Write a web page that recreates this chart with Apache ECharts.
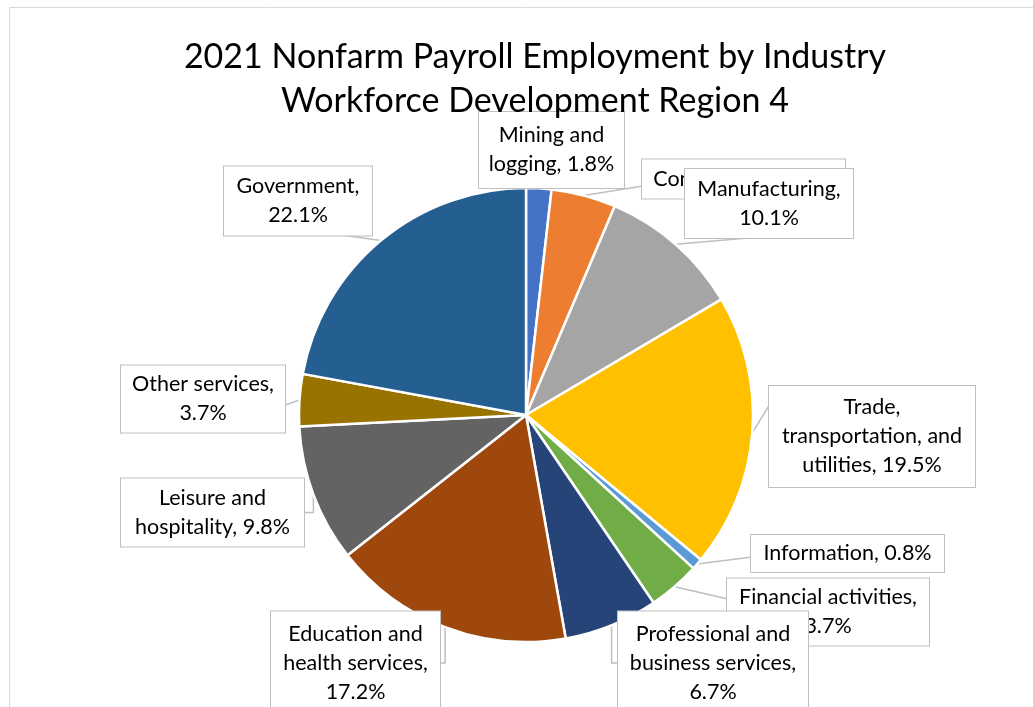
<!DOCTYPE html>
<html>
<head>
<meta charset="utf-8">
<script src="https://cdn.jsdelivr.net/npm/echarts@6/dist/echarts.min.js"></script>
<style>
  html, body { margin: 0; padding: 0; background: #fff; }
  #chart { width: 1033px; height: 707px; }
</style>
</head>
<body>
<div id="chart"></div>
<script>
// Share of 2021 nonfarm payroll employment by industry (percent)
const industries = [
  'Mining and\nlogging',
  'Construction',
  'Manufacturing',
  'Trade,\ntransportation, and\nutilities',
  'Information',
  'Financial activities',
  'Professional and\nbusiness services',
  'Education and\nhealth services',
  'Leisure and\nhospitality',
  'Other services',
  'Government'
];
const shares = [1.8, 4.6, 10.1, 19.5, 0.8, 3.7, 6.7, 17.2, 9.8, 3.7, 22.1];
const sliceColors = [
  '#4472C4', '#ED7D31', '#A5A5A5', '#FFC000', '#5B9BD5', '#70AD47',
  '#264478', '#9E480E', '#636363', '#997300', '#255E91'
];
// How each callout reads: where the comma-separated value goes
const calloutSeparators = [', ', ', ', ',\n', ', ', ', ', ',\n', ',\n', ',\n', ', ', ',\n', ',\n'];

// Callout boxes: centre x, centre y, box width, vertical padding
const calloutBoxes = [
  [551.5, 150, 145, 9],
  [743.5, 179, 203, 5],
  [769, 203.5, 168, 5.5],
  [872, 436.5, 206, 7],
  [847.5, 553.5, 193, 4],
  [828, 612, 202, 4.5],
  [713, 663, 190, 8],
  [355.5, 663, 169, 8],
  [212.5, 512.5, 183, 5],
  [203, 399, 164, 4.5],
  [298, 201, 148, 5.5]
];
// Where each callout pointer meets its box (null: let ECharts pick)
const pointerTargets = [
  [541, 187],
  [643, 186],
  [760, 237],
  [770, 404],
  [752, 557],
  [728, 599],
  null,
  null,
  null,
  [285, 405],
  [335, 234]
];

const data = industries.map((name, i) => ({
  name: name,
  value: shares[i],
  itemStyle: { color: sliceColors[i] },
  label: {
    formatter: name + calloutSeparators[i] + shares[i].toFixed(1) + '%',
    width: calloutBoxes[i][2],
    padding: [calloutBoxes[i][3], 0]
  }
}));

const chart = echarts.init(document.getElementById('chart'));
chart.setOption({
  backgroundColor: '#fff',
  animation: false,
  title: {
    text: '2021 Nonfarm Payroll Employment by Industry\nWorkforce Development Region 4',
    left: 530,
    top: 30,
    textAlign: 'center',
    textStyle: {
      fontFamily: 'Lato',
      fontWeight: 'normal',
      fontSize: 34,
      lineHeight: 44,
      color: '#000'
    }
  },
  graphic: [{
    type: 'rect',
    shape: { x: 9.5, y: 7.5, width: 1040, height: 740 },
    style: { fill: 'none', stroke: '#D9D9D9', lineWidth: 1 },
    silent: true,
    z: -10
  }],
  series: [{
    type: 'pie',
    center: [526, 415],
    radius: 227,
    startAngle: 90,
    clockwise: true,
    data: data,
    itemStyle: { borderColor: '#fff', borderWidth: 2.5 },
    label: {
      show: true,
      fontFamily: 'Lato',
      fontSize: 21.5,
      lineHeight: 29,
      color: '#000',
      align: 'center',
      backgroundColor: '#fff',
      borderColor: '#BFBFBF',
      borderWidth: 1
    },
    labelLine: {
      show: true,
      length: 10,
      length2: 10,
      lineStyle: { color: '#BFBFBF', width: 1.5 }
    },
    labelLayout: function (params) {
      const i = params.dataIndex;
      const b = calloutBoxes[i];
      const layout = {
        x: b[0],
        y: b[1],
        align: 'center',
        verticalAlign: 'middle'
      };
      const t = pointerTargets[i];
      if (t && params.labelLinePoints) {
        const p0 = params.labelLinePoints[0];
        layout.labelLinePoints = [p0, t, t];
      }
      return layout;
    }
  }]
});
</script>
</body>
</html>
